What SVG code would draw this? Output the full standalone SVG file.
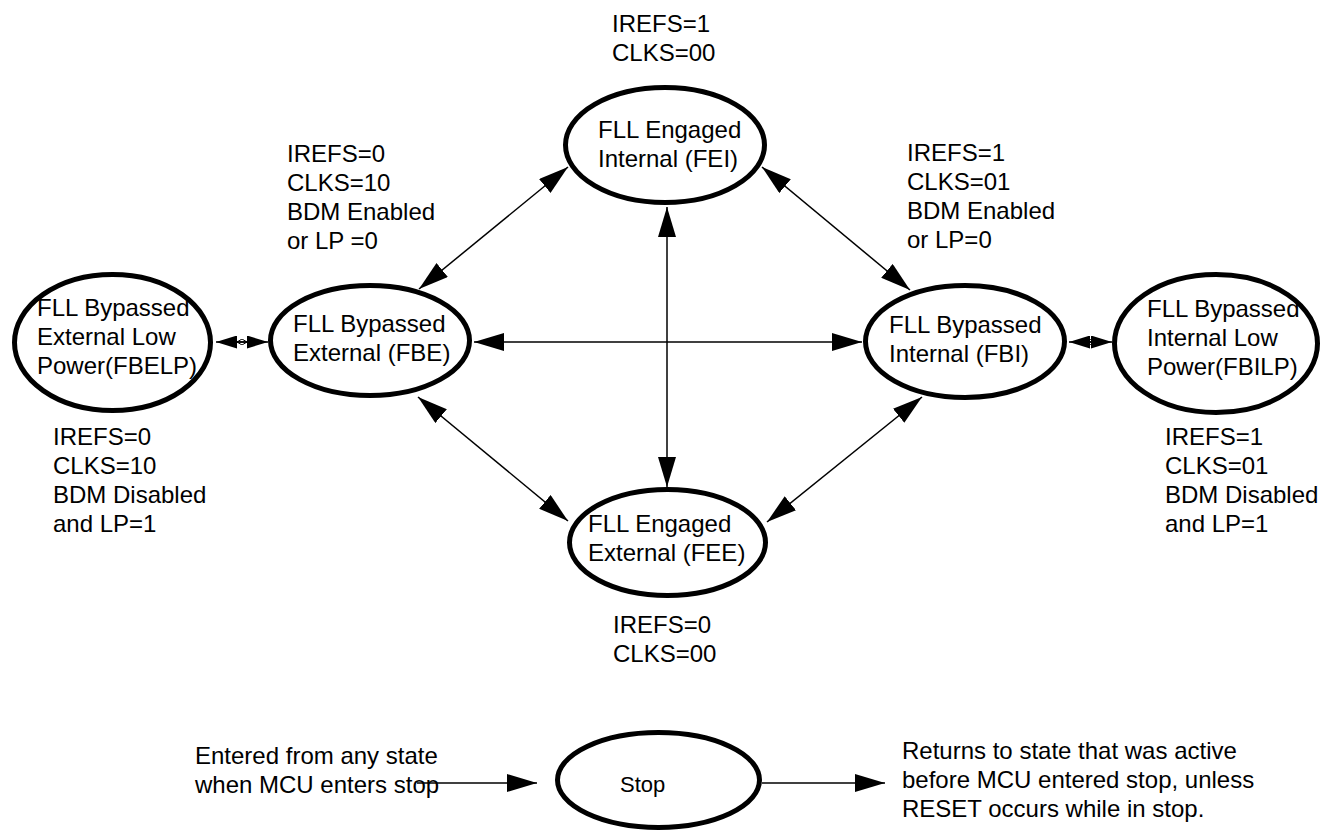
<svg xmlns="http://www.w3.org/2000/svg" width="1327" height="832" viewBox="0 0 1327 832">
<style>
.node{fill:#fff;stroke:#000;stroke-width:5}
.t{font-family:"Liberation Sans",Arial,sans-serif;font-size:24px;fill:#000}
.c{stroke:#000;stroke-width:1.5;fill:none}
</style>
<defs>
<marker id="ah" markerUnits="userSpaceOnUse" markerWidth="30" markerHeight="18" refX="30" refY="9" orient="auto-start-reverse" viewBox="0 0 30 18">
<path d="M0,0 L30,9 L0,18 z" fill="#000"/>
</marker>
<marker id="ahm" markerUnits="userSpaceOnUse" markerWidth="21" markerHeight="13" refX="21" refY="6.5" orient="auto-start-reverse" viewBox="0 0 21 13">
<path d="M0,0 L21,6.5 L0,13 z" fill="#000"/>
</marker>
<marker id="ahs" markerUnits="userSpaceOnUse" markerWidth="5" markerHeight="6" refX="5" refY="3" orient="auto-start-reverse" viewBox="0 0 5 6">
<path d="M0,0 L5,3 L0,6" fill="none" stroke="#000" stroke-width="1"/>
</marker>
</defs>
<rect width="1327" height="832" fill="#fff"/>
<g id="connectors">
<line class="c" x1="419" y1="289" x2="568" y2="167" marker-start="url(#ah)" marker-end="url(#ah)"/>
<line class="c" x1="762" y1="167" x2="910" y2="290" marker-start="url(#ah)" marker-end="url(#ah)"/>
<line class="c" x1="418" y1="397" x2="568" y2="521" marker-start="url(#ah)" marker-end="url(#ah)"/>
<line class="c" x1="922" y1="397" x2="767" y2="522" marker-start="url(#ah)" marker-end="url(#ah)"/>
<line class="c" x1="667" y1="207" x2="667" y2="487" marker-start="url(#ah)" marker-end="url(#ah)"/>
<line class="c" x1="474" y1="342" x2="862" y2="342" marker-start="url(#ah)" marker-end="url(#ah)"/>
<line class="c" x1="216" y1="342" x2="268" y2="342" marker-start="url(#ahm)" marker-end="url(#ahm)"/>
<line class="c" x1="237" y1="342" x2="247" y2="342" marker-start="url(#ahs)" marker-end="url(#ahs)"/>
<line class="c" x1="1069" y1="342" x2="1112" y2="342" marker-start="url(#ahm)" marker-end="url(#ahm)"/>
<line class="c" x1="1083" y1="342" x2="1095" y2="342" marker-start="url(#ahs)" marker-end="url(#ahs)"/>
<line class="c" x1="417" y1="783" x2="537" y2="783" marker-end="url(#ah)"/>
<line class="c" x1="762" y1="783" x2="885" y2="783" marker-end="url(#ah)"/>
</g>
<g id="FEI">
<ellipse class="node" cx="665" cy="145" rx="99.5" ry="57.5"/>
<text class="t" x="598" y="138">FLL Engaged</text>
<text class="t" x="598" y="167">Internal (FEI)</text>
</g>
<g id="FBE">
<ellipse class="node" cx="370" cy="340.5" rx="99.5" ry="55"/>
<text class="t" x="293" y="332">FLL Bypassed</text>
<text class="t" x="293" y="361">External (FBE)</text>
</g>
<g id="FBELP">
<ellipse class="node" cx="112.5" cy="342.5" rx="98" ry="68"/>
<text class="t" x="37" y="316">FLL Bypassed</text>
<text class="t" x="37" y="345">External Low</text>
<text class="t" x="37" y="374">Power(FBELP)</text>
</g>
<g id="FBI">
<ellipse class="node" cx="965" cy="341.5" rx="99.5" ry="56"/>
<text class="t" x="889" y="333">FLL Bypassed</text>
<text class="t" x="889" y="362">Internal (FBI)</text>
</g>
<g id="FBILP">
<ellipse class="node" cx="1216" cy="343.5" rx="101.5" ry="69"/>
<text class="t" x="1147" y="317">FLL Bypassed</text>
<text class="t" x="1147" y="346">Internal Low</text>
<text class="t" x="1147" y="375">Power(FBILP)</text>
</g>
<g id="FEE">
<ellipse class="node" cx="667.5" cy="542.5" rx="98" ry="53"/>
<text class="t" x="588" y="532">FLL Engaged</text>
<text class="t" x="588" y="561">External (FEE)</text>
</g>
<g id="Stop">
<ellipse class="node" cx="658.5" cy="780" rx="101" ry="47.5"/>
<text class="t" x="620" y="792" style="font-size:22px">Stop</text>
</g>
<g id="labels">
<text class="t" x="612" y="32">IREFS=1</text>
<text class="t" x="612" y="61">CLKS=00</text>
<text class="t" x="287" y="162">IREFS=0</text>
<text class="t" x="287" y="191">CLKS=10</text>
<text class="t" x="287" y="220">BDM Enabled</text>
<text class="t" x="287" y="249">or LP =0</text>
<text class="t" x="907" y="161">IREFS=1</text>
<text class="t" x="907" y="190">CLKS=01</text>
<text class="t" x="907" y="219">BDM Enabled</text>
<text class="t" x="907" y="248">or LP=0</text>
<text class="t" x="53" y="445">IREFS=0</text>
<text class="t" x="53" y="474">CLKS=10</text>
<text class="t" x="53" y="503">BDM Disabled</text>
<text class="t" x="53" y="532">and LP=1</text>
<text class="t" x="1165" y="445">IREFS=1</text>
<text class="t" x="1165" y="474">CLKS=01</text>
<text class="t" x="1165" y="503">BDM Disabled</text>
<text class="t" x="1165" y="532">and LP=1</text>
<text class="t" x="613" y="633">IREFS=0</text>
<text class="t" x="613" y="662">CLKS=00</text>
<text class="t" x="195" y="764">Entered from any state</text>
<text class="t" x="195" y="793">when MCU enters stop</text>
<text class="t" x="902" y="759">Returns to state that was active</text>
<text class="t" x="902" y="788">before MCU entered stop, unless</text>
<text class="t" x="902" y="817">RESET occurs while in stop.</text>
</g>
</svg>
